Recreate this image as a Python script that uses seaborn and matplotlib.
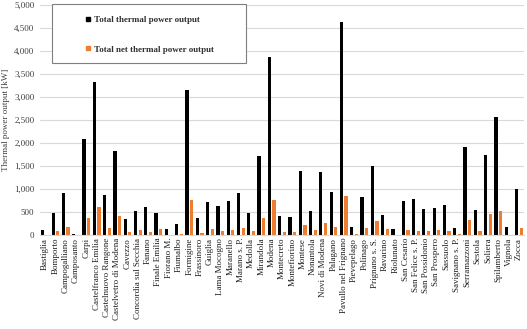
import matplotlib
matplotlib.use("Agg")
import matplotlib.pyplot as plt
import seaborn as sns
import pandas as pd
from matplotlib.lines import Line2D
from matplotlib.patches import Rectangle

municipalities = [
    "Bastiglia", "Bomporto", "Campogalliano", "Camposanto", "Carpi",
    "Castelfranco Emilia", "Castelnuovo Rangone", "Castelvetro di Modena",
    "Cavezzo", "Concordia sul Secchia", "Fanano", "Finale Emilia",
    "Fiorano M.", "Fiumalbo", "Formigine", "Frassinoro", "Guiglia",
    "Lama Mocogno", "Maranello", "Marano s. P.", "Medolla", "Mirandola",
    "Modena", "Montecreto", "Montefiorino", "Montese", "Nonantola",
    "Novi di Modena", "Palagano", "Pavullo nel Frignano", "Pievepelago",
    "Polinago", "Prignano s. S.", "Ravarino", "Riolunato", "San Cesario",
    "San Felice s. P.", "San Possidonio", "San Prospero", "Sassuolo",
    "Savignano s. P.", "Serramazzoni", "Sestola", "Soliera", "Spilamberto",
    "Vignola", "Zocca",
]
total_thermal = [
    105, 470, 915, 25, 2080, 3335, 880, 1835, 340, 525, 600, 470,
    125, 240, 3155, 360, 715, 630, 730, 915, 475, 1710, 3865, 405,
    390, 1390, 520, 1370, 935, 4630, 180, 825, 1505, 440, 125, 745,
    775, 560, 585, 645, 150, 1910, 535, 1740, 2570, 180, 1005,
]
total_net = [
    8, 87, 175, 0, 370, 605, 160, 410, 60, 105, 65, 130,
    5, 15, 760, 35, 125, 87, 115, 150, 87, 370, 755, 65,
    60, 217, 110, 270, 165, 850, 15, 150, 305, 137, 5, 115,
    95, 95, 105, 80, 15, 325, 80, 455, 520, 5, 150,
]
series_names = ["Total thermal power output", "Total net thermal power output"]
series_colors = ["#000000", "#ED7D31"]

df = pd.DataFrame({
    "Municipality": municipalities * 2,
    "Value": total_thermal + total_net,
    "Series": [series_names[0]] * len(municipalities) + [series_names[1]] * len(municipalities),
})

sns.set_theme(style="white")
plt.rcParams["font.family"] = ["Liberation Serif", "DejaVu Serif"]

fig = plt.figure(figsize=(5.27, 3.29), dpi=100)
ax = fig.add_axes([40 / 527, (329 - 235) / 329, 484 / 527, 230 / 329])

sns.barplot(data=df, x="Municipality", y="Value", hue="Series",
            palette=series_colors, width=0.9, gap=0.3, ax=ax,
            legend=False, saturation=1, errorbar=None, linewidth=0)

ax.set_ylim(0, 5000)
ax.set_xlim(-0.5, len(municipalities) - 0.5)
ax.set_yticks(range(0, 5001, 500))
ax.set_yticklabels([f"{v:,}" for v in range(0, 5001, 500)], fontsize=6.5,
                   color="#404040")
ax.yaxis.grid(True, color="#D9D9D9", linewidth=0.8)
ax.set_axisbelow(True)
ax.tick_params(axis="x", labelrotation=90, labelsize=6.5, pad=2, length=0)
ax.tick_params(axis="y", pad=4, length=0)
for lbl in ax.get_xticklabels():
    lbl.set_color("#202020")
for s in ["top", "right", "left"]:
    ax.spines[s].set_visible(False)
ax.spines["bottom"].set_color("#D9D9D9")
ax.spines["bottom"].set_linewidth(0.8)
ax.set_xlabel("")
ax.set_ylabel("Thermal power output [kW]", fontsize=6.5, color="#404040",
              labelpad=3)

handles = [Line2D([0], [0], marker="s", linestyle="none", markersize=3.5,
                  markerfacecolor=c, markeredgecolor=c) for c in series_colors]
leg = ax.legend(handles, series_names, loc="center",
                bbox_to_anchor=((52 + 246) / 2 / 527, 1 - 34.5 / 329),
                bbox_transform=fig.transFigure,
                fontsize=6.5, frameon=False, labelspacing=2.4,
                borderpad=0, handletextpad=0.3, handlelength=0.8,
                borderaxespad=0)
for t in leg.get_texts():
    t.set_fontweight("bold")
    t.set_color("#303030")
leg._legend_box.align = "left"

box = Rectangle((52 / 527, 1 - 63 / 329), 194 / 527, 59 / 329,
                transform=fig.transFigure, fill=True, facecolor="white",
                edgecolor="#7F7F7F", linewidth=0.8, zorder=2)
fig.add_artist(box)
leg.set_zorder(3)
fig.add_artist(leg)

fig.savefig("out.png", dpi=100)
